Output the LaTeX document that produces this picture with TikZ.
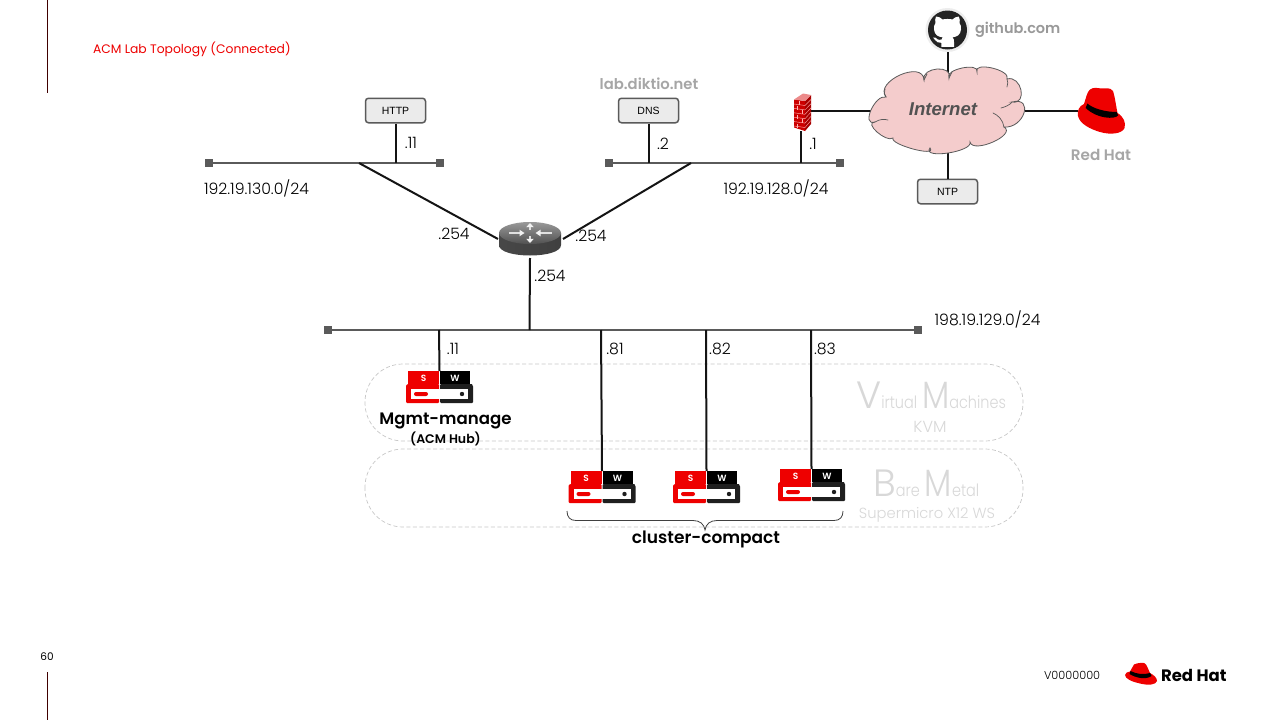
\documentclass[tikz,border=0pt]{standalone}
\usepackage{fontspec}
\setmainfont{Poppins}
\newfontfamily\lightf{Poppins Light}
\newfontfamily\semif{Poppins SemiBold}
\newfontfamily\arialf{Liberation Sans}
\newcommand{\fz}[1]{\fontsize{#1}{#1}\selectfont}
\newcommand{\nx}[1]{\scalebox{0.85}[1]{#1}}
\definecolor{rhred}{HTML}{EE0000}
\definecolor{barc}{HTML}{5A5A5A}
\definecolor{ghost}{HTML}{D8D8D8}
\definecolor{cloudc}{HTML}{F4CCCC}
\tikzset{
  wire/.style={draw=black!92,line width=2pt},
  bar/.style={draw=barc,line width=2pt},
  endcap/.style={fill=barc,draw=none,minimum size=8pt,inner sep=0pt,outer sep=0pt,rectangle},
  svcbox/.style={draw=barc,line width=1.5pt,fill=black!8,rounded corners=3pt,minimum width=60pt,minimum height=24.5pt,inner sep=0pt,font=\arialf\fz{10.5}},
  zone/.style={draw=black!22,dash pattern=on 4pt off 2.5pt,line width=0.7pt,rounded corners=38pt},
  lbl/.style={inner sep=0pt,outer sep=0pt,font=\lightf\fz{15.7},text=black},
  hide/.style={inner sep=0pt,outer sep=0pt,draw=none,rectangle},
  srvicon/.pic={
    \fill[rhred] (-31.5,0) rectangle (-0.5,13);
    \fill[black] (0.5,0) rectangle (30.5,13);
    \fill[rhred] (-33.5,14) [rounded corners=1pt] -- (-31.5,13) -- (-0.5,13) -- (-0.5,32) -- (-33.5,32) -- cycle;
    \fill[black!88] (0.5,13) -- (32,13) [rounded corners=1pt] -- (33.5,14.5) -- (33.5,32) -- (0.5,32) -- cycle;
    \fill[white] (-28.5,18) rectangle (28.5,28);
    \fill[rhred,rounded corners=2pt] (-25.5,21) rectangle (-11.5,25);
    \fill[black!88] (22.5,23) circle (2.2);
    \node[hide,text=white,font=\semif\fz{9}] at (-16,7.2) {S};
    \node[hide,text=white,font=\semif\fz{9}] at (15.5,7.2) {W};
  }
}
\begin{document}
\begin{tikzpicture}[x=1pt,y=-1pt]
\useasboundingbox[fill=white] (0,0) rectangle (1280,720);

% slide furniture
\coordinate (ruleA) at (47,0); \coordinate (ruleB) at (47,93);
\coordinate (ruleC) at (47,672); \coordinate (ruleD) at (47,720);
\draw[line width=1pt,draw=black!75!red] (ruleA) -- (ruleB);
\draw[line width=1pt,draw=black!75!red] (ruleC) -- (ruleD);
\node[lbl,anchor=west,text=rhred,font=\fz{12.35}] (title) at (93,49) {ACM Lab Topology (Connected)};
\node[lbl,font=\fz{10.5}] (pageno) at (47,657) {60};
\node[lbl,anchor=west,font=\lightf\fz{11.3}] (ver) at (1044,675) {V0000000};

% zones
\draw[zone] (365,364) rectangle (1023,441);
\draw[zone] (365,449) rectangle (1023,527);
\node[inner sep=0pt,anchor=base west,text=ghost,font=\lightf] (vm) at (856,408) {\fz{38}V\fz{17}\nx{irtual}\hspace{5pt}\fz{38}\nx{M}\fz{17}\nx{achines}};
\node[lbl,text=ghost,font=\lightf\fz{16}] (kvm) at (930,427) {KVM};
\node[inner sep=0pt,anchor=base west,text=ghost,font=\lightf] (bm) at (873,496) {\fz{38}B\fz{17}\nx{are}\hspace{5pt}\fz{38}\nx{M}\fz{17}\nx{etal}};
\node[lbl,text=ghost,font=\lightf\fz{14.7}] (smc) at (927,515) {Supermicro X12 WS};

% networks
\node[endcap] (n130l) at (209,163) {};
\node[endcap] (n130r) at (440,163) {};
\node[endcap] (n128l) at (609,163) {};
\node[endcap] (n128r) at (840,163) {};
\node[endcap] (n129l) at (328,330) {};
\node[endcap] (n129r) at (918,330) {};
\draw[bar] (n130l) -- (n130r);
\draw[bar] (n128l) -- (n128r);
\draw[bar] (n129l) -- (n129r);

% services
\node[svcbox] (http) at (395.5,110.5) {HTTP};
\node[svcbox] (dns) at (648.5,110.5) {DNS};
\node[svcbox] (ntp) at (947.5,191.5) {NTP};

% hidden anchors for pictures
\node[hide,minimum width=17pt,minimum height=38pt] (fw) at (802.5,112) {};
\node[hide,minimum width=154pt,minimum height=87pt] (cloud) at (948,110.5) {};
\node[hide,minimum width=44pt,minimum height=44pt] (gh) at (947.5,30) {};
\node[hide,minimum width=47pt,minimum height=47pt] (hat) at (1101,110) {};
\node[hide,minimum width=68pt,minimum height=37pt] (router) at (530,240) {};
\coordinate (srvA) at (439.5,371);
\coordinate (srvB) at (602,471);
\coordinate (srvC) at (706.5,471);
\coordinate (srvD) at (811.5,469);
\coordinate (j130) at (359,163);
\coordinate (j128) at (691,163);

% connectors
\draw[wire] (http.south) -- (395.5,163);
\draw[wire] (dns.south) -- (648.5,163);
\draw[wire] (800.5,131) -- (800.5,163);
\draw[wire] (fw.east |- cloud.west) -- (cloud.west);
\draw[wire] (cloud.east) -- (1078,110.5);
\draw[wire] (gh.south) -- (947.5,73);
\draw[wire] (947.5,153) -- (ntp.north);
\draw[wire] (j130) -- (498,239);
\draw[wire] (j128) -- (563,239);
\draw[wire] (530,258) -- (529.5,330);
\draw[wire] (439,330) -- (srvA);
\draw[wire] (601,330) -- (srvB);
\draw[wire] (706,330) -- (srvC);
\draw[wire] (811,330) -- (srvD);

% cloud
\draw[fill=cloudc,draw=black!65,line width=0.8pt]
 (886,97) .. controls (873.6,81.6) and (923,59.4) .. (924,80)
 .. controls (920.9,67) and (953.5,64.4) .. (949,78)
 .. controls (943.5,69.6) and (979.9,61.8) .. (977,72)
 .. controls (972.5,61) and (1011.5,70) .. (1007,79)
 .. controls (1021.5,74.8) and (1028.1,104.8) .. (1012,102)
 .. controls (1034.5,96.2) and (1024.1,128.8) .. (1004,127)
 .. controls (1017.1,134.7) and (972.9,154.3) .. (970,142)
 .. controls (973.3,151.8) and (921.3,159.6) .. (930,148)
 .. controls (937.6,157.5) and (889.4,144.5) .. (893,138)
 .. controls (886.4,143.1) and (863,122.3) .. (875,122)
 .. controls (860.6,126.5) and (875,94) .. (886,97) -- cycle;
\draw[draw=black!65,line width=0.7pt,line cap=round]
 (886,97) .. controls (884,95) and (884,92) .. (885,89)
 (1012,102) .. controls (1010,105) and (1005,107) .. (1001,108)
 (1004,127) .. controls (1003,120) and (998,115) .. (993,113)
 (875,122) .. controls (880,119) and (884,119) .. (888,120)
 (924,80) .. controls (925,78) and (926,76) .. (927,74)
 (949,78) .. controls (950,76) and (951,74) .. (952,72)
 (1007,79) .. controls (1008,81) and (1008,84) .. (1007,87);
\node[hide,text=black!68,font=\arialf\bfseries\itshape\fz{18.6}] (inet) at (943,109.5) {Internet};

% firewall
\fill[red!80!black] (794,99.5) -- (805,101) -- (805,131) -- (794,127.5) -- cycle;
\fill[red!65!black] (805,101) -- (811,95) -- (811,124) -- (805,131) -- cycle;
\fill[red!45!white!85!gray] (794,99.5) -- (803,93.5) -- (811,95) -- (805,101) -- cycle;
\foreach \yy in {0,...,5}{
  \draw[white!70!red,line width=0.45pt] (794,104+4.4*\yy) -- (805,105.5+4.4*\yy);
  \draw[white!60!red,line width=0.45pt] (805,105.5+4.4*\yy) -- (811,99.5+4.2*\yy);
}
\foreach \xx/\yy in {799/101,797/106,802/110,797/115,802/119,797/124}{
  \draw[white!70!red,line width=0.4pt] (\xx,\yy) -- (\xx,\yy+4);
}

% github
\fill[black!7] (947.5,30) circle (22);
\fill[black!86] (947.5,30) circle (19.5);
\fill[white] (936,16.5) .. controls (939,16.5) and (941,18) .. (942.5,19.5)
 .. controls (945,18.8) and (950,18.8) .. (952.5,19.5)
 .. controls (954,18) and (956,16.5) .. (958.8,16.5)
 .. controls (960,19) and (960,21) .. (959.5,23)
 .. controls (962,26) and (961.5,33) .. (958,35.5)
 .. controls (956.5,36.5) and (954.5,37) .. (952.5,37.4)
 .. controls (954,38.5) and (954,40) .. (954,42) -- (954,46.8)
 -- (941.3,46.8) -- (941.3,42.8)
 .. controls (938,43) and (936.5,42) .. (935.2,40)
 .. controls (934.5,38.7) and (933.8,38) .. (932.8,37.5)
 .. controls (934.8,36.8) and (936.5,38) .. (937.3,39.2)
 .. controls (938.3,40) and (940,40) .. (941.5,39.5)
 .. controls (941.5,38.5) and (942,38) .. (942.7,37.4)
 .. controls (940.5,37) and (938.5,36.5) .. (937,35.5)
 .. controls (933.5,33) and (933,26) .. (935.5,23)
 .. controls (935,21) and (935,19) .. (936,16.5) -- cycle;
\node[hide,anchor=west,text=black!40,font=\semif\fz{14.5}] (ghl) at (975,29.5) {github.com};

% red hat (top)
\fill[rhred] (1090,89.5) .. controls (1093,87) and (1098,88) .. (1101,88.5)
 .. controls (1105,88.5) and (1110,87) .. (1113,91)
 .. controls (1115,97) and (1116,106) .. (1117.5,113)
 .. controls (1124,117) and (1126,123) .. (1124.5,128)
 .. controls (1122,134) and (1110,135) .. (1100,132)
 .. controls (1090,129) and (1080,124) .. (1078,116)
 .. controls (1077,111) and (1079,106) .. (1084,104)
 .. controls (1086,98) and (1087,92) .. (1090,89.5) -- cycle;
\fill[black] (1087.3,103.5) .. controls (1093,108.5) and (1105,112) .. (1116.8,112)
 -- (1118,115.5) .. controls (1115,119.5) and (1097,119) .. (1085.7,108) -- cycle;
\node[hide,text=black!35,font=\semif\fz{15.2}] (hatl) at (1101,155) {Red Hat};

% red hat (footer)
\fill[rhred] (1134,664.5) .. controls (1138,662.5) and (1144,662.5) .. (1145,663.5)
 .. controls (1147,665) and (1148,669) .. (1150,673)
 .. controls (1154,675) and (1157,678) .. (1157,681)
 .. controls (1156,685) and (1148,685.5) .. (1140,683.5)
 .. controls (1133,682) and (1125,679) .. (1125,675)
 .. controls (1125,673) and (1128,671.5) .. (1130,671.5) -- cycle;
\fill[black] (1130.5,671) .. controls (1136,674) and (1144,675) .. (1150,673)
 -- (1151.5,676) .. controls (1146,680) and (1136,678) .. (1129.5,674) -- cycle;
\node[hide,anchor=west,text=black,font=\bfseries\fz{16.5}] (rhfoot) at (1161,675) {Red Hat};

% router
\path[left color=black!72,middle color=black!42,right color=black!75]
 (499,233) -- (499,245) .. controls (499,259) and (561,259) .. (561,245) -- (561,233) -- cycle;
\path[top color=black!40,bottom color=black!68] (530,233) ellipse [x radius=31,y radius=11];
\draw[black!12,line width=1.1pt] (509,233) -- (522,233) (538,233) -- (552,233)
 (530,224.5) -- (530,230) (530,236) -- (530,241.5);
\fill[black!5] (524.5,233) -- (519.5,229.7) -- (519.5,236.3) -- cycle
 (535.5,233) -- (540.5,229.7) -- (540.5,236.3) -- cycle
 (530,223) -- (526.2,227.2) -- (533.8,227.2) -- cycle
 (530,243) -- (526.2,238.8) -- (533.8,238.8) -- cycle;

% servers
\pic at (srvA) {srvicon};
\pic at (srvB) {srvicon};
\pic at (srvC) {srvicon};
\pic at (srvD) {srvicon};

% brace
\coordinate (brL) at (567,511);
\coordinate (brR) at (843,511);
\coordinate (brT) at (705,530);
\draw[draw=black!75,line width=0.8pt] (brL) .. controls (567,517) and (570,520.5) .. (576,520.5) -- (693,520.5)
 .. controls (700,520.5) and (704,524) .. (brT)
 .. controls (706,524) and (710,520.5) .. (717,520.5) -- (834,520.5)
 .. controls (840,520.5) and (843,517) .. (brR);

% labels
\node[lbl] (l130) at (256.5,188) {192.19.130.0/24};
\node[lbl] (l128) at (776,188) {192.19.128.0/24};
\node[lbl] (l129) at (987.5,319.5) {198.19.129.0/24};
\node[hide,text=black!35,font=\semif\fz{14.8}] (lab) at (649,84) {lab.diktio.net};
\node[lbl] (a1) at (411,143) {.11};
\node[lbl] (a2) at (663,144) {.2};
\node[lbl] (a3) at (813,144) {.1};
\node[lbl] (a4) at (454,234) {.254};
\node[lbl] (a5) at (591,236) {.254};
\node[lbl] (a6) at (550,276) {.254};
\node[lbl] (b1) at (453,349) {.11};
\node[lbl] (b2) at (615,349) {.81};
\node[lbl] (b3) at (720,349) {.82};
\node[lbl] (b4) at (825,349) {.83};
\node[hide,font=\semif\fz{16.6}] (mg) at (445.5,421) {Mgmt-manage};
\node[hide,font=\semif\fz{12.5}] (hub) at (445.5,438.5) {(ACM Hub)};
\node[hide,font=\semif\fz{17}] (cc) at (706,539) {cluster-compact};
\end{tikzpicture}
\end{document}
